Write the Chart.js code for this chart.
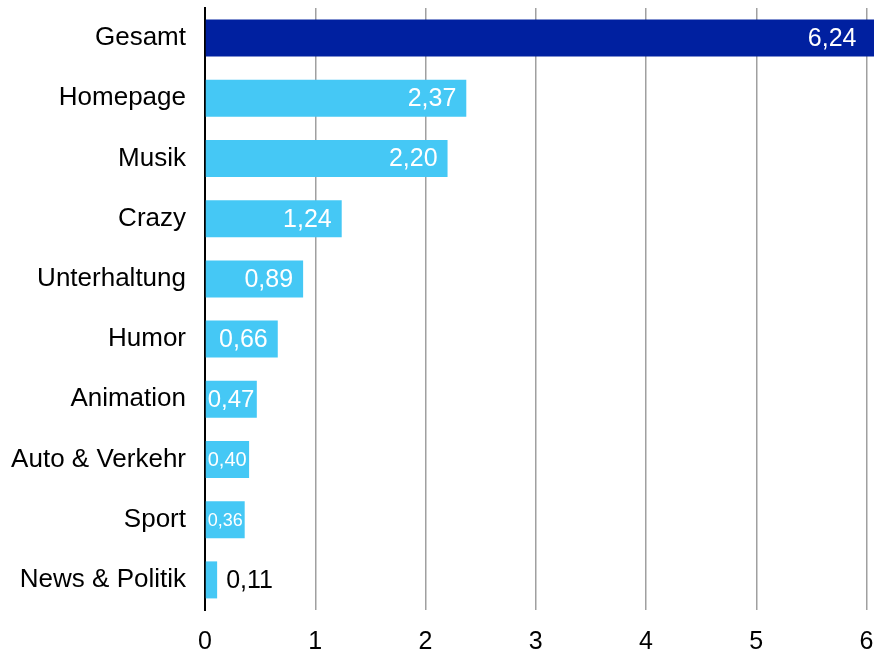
<!DOCTYPE html>
<html>
<head>
<meta charset="utf-8">
<script src="https://cdn.jsdelivr.net/npm/chart.js@4/dist/chart.umd.min.js"></script>
<style>
  html, body { margin: 0; padding: 0; background: #fff; }
  #wrap { width: 874px; height: 659px; }
</style>
</head>
<body>
<div id="wrap"><canvas id="grafica" width="874" height="659"></canvas></div>
<script>
const categorias = ['Gesamt', 'Homepage', 'Musik', 'Crazy', 'Unterhaltung', 'Humor', 'Animation', 'Auto & Verkehr', 'Sport', 'News & Politik'];
const valores = [6.24, 2.37, 2.20, 1.24, 0.89, 0.66, 0.47, 0.40, 0.36, 0.11];
const colores = ['#0020a0', '#45c8f5', '#45c8f5', '#45c8f5', '#45c8f5', '#45c8f5', '#45c8f5', '#45c8f5', '#45c8f5', '#45c8f5'];
const ticksX = [0, 1, 2, 3, 4, 5, 6];

const FUENTE = 'Liberation Sans, Arial, sans-serif';

// Etiquetas de valor dentro / fuera de las barras
const etiquetas = {
    id: 'etiquetas',
    afterDatasetsDraw(chart) {
        const ctx = chart.ctx;
        const area = chart.chartArea;
        const meta = chart.getDatasetMeta(0);
        ctx.save();
        ctx.textBaseline = 'middle';
        meta.data.forEach((bar, i) => {
            const texto = valores[i].toFixed(2).replace('.', ',');
            const fin = Math.min(bar.x, area.right);
            const ancho = fin - bar.base;
            let size = 25;
            ctx.font = size + 'px ' + FUENTE;
            let w = ctx.measureText(texto).width;
            if (ancho < 30) {
                ctx.fillStyle = '#000';
                ctx.textAlign = 'left';
                ctx.fillText(texto, fin + 9, bar.y + 1);
                return;
            }
            if (w + 10 > ancho) {
                size = Math.floor(size * (ancho - 3) / w);
                ctx.font = size + 'px ' + FUENTE;
                ctx.fillStyle = '#fff';
                ctx.textAlign = 'left';
                ctx.fillText(texto, bar.base + 2, bar.y + 1);
                return;
            }
            ctx.fillStyle = '#fff';
            ctx.textAlign = 'right';
            ctx.fillText(texto, fin - 10, bar.y + 1);
        });
        ctx.restore();
    }
};

new Chart(document.getElementById('grafica').getContext('2d'), {
    type: 'bar',
    data: {
        labels: categorias,
        datasets: [{
            data: valores,
            backgroundColor: colores,
            borderWidth: 0,
            categoryPercentage: 1,
            barPercentage: 0.615,
            clip: false
        }]
    },
    options: {
        indexAxis: 'y',
        responsive: false,
        animation: false,
        layout: { padding: { top: 8, right: 7.5, bottom: 0, left: 0 } },
        plugins: { legend: { display: false }, tooltip: { enabled: false } },
        scales: {
            x: {
                min: 0,
                max: 6,
                afterBuildTicks: axis => { axis.ticks = ticksX.map(v => ({ value: v })); },
                afterFit: axis => {
                    axis.height = 49;
                    axis.paddingLeft = 0;
                    axis.paddingRight = 0;
                },
                grid: {
                    color: ctx => ctx.tick && ctx.tick.value === 0 ? 'rgba(0,0,0,0)' : '#a0a0a0',
                    lineWidth: 1.5,
                    drawTicks: false
                },
                border: { display: false },
                ticks: {
                    color: '#000',
                    padding: 17,
                    font: { family: FUENTE, size: 25 }
                }
            },
            y: {
                afterFit: axis => {
                    axis.width = 205;
                    axis.paddingTop = 0;
                    axis.paddingBottom = 0;
                },
                grid: { display: false, drawTicks: false },
                border: { display: true, color: '#000', width: 2 },
                ticks: {
                    color: '#000',
                    padding: 19,
                    font: { family: FUENTE, size: 26 }
                }
            }
        }
    },
    plugins: [etiquetas]
});
</script>
</body>
</html>
